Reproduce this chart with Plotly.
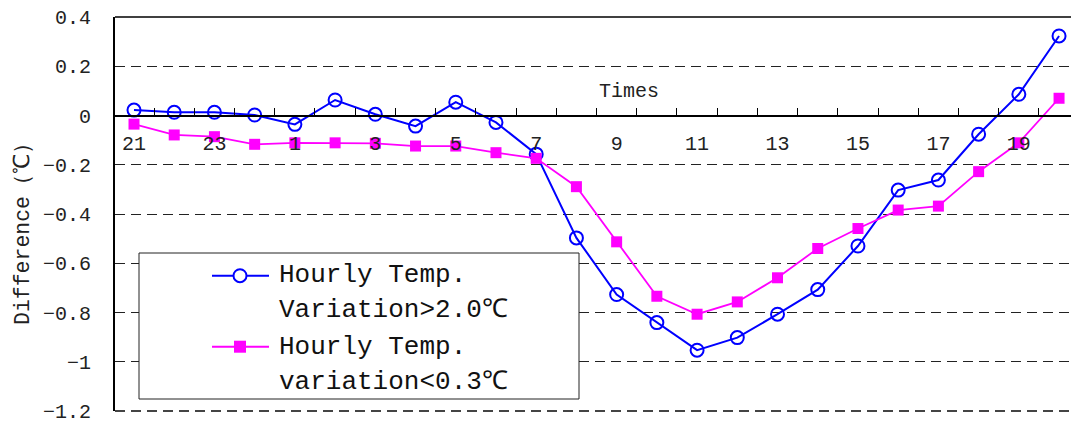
import plotly.graph_objects as go

# ---- data ----
hours = [21, 22, 23, 0, 1, 2, 3, 4, 5, 6, 7, 8, 9, 10, 11, 12, 13, 14, 15, 16, 17, 18, 19, 20]
diff_large = [0.022, 0.013, 0.013, 0.002, -0.036, 0.063, 0.005, -0.043, 0.054, -0.028, -0.157, -0.497,
              -0.727, -0.841, -0.953, -0.902, -0.807, -0.707, -0.530, -0.303, -0.262, -0.076, 0.086, 0.323]
diff_small = [-0.035, -0.079, -0.086, -0.117, -0.111, -0.111, -0.113, -0.124, -0.124, -0.151, -0.174, -0.289,
              -0.513, -0.734, -0.807, -0.757, -0.659, -0.540, -0.459, -0.384, -0.368, -0.228, -0.111, 0.070]
name_large = ["Hourly Temp.", "Variation>2.0℃"]
name_small = ["Hourly Temp.", "variation<0.3℃"]
y_ticks = [0.4, 0.2, 0, -0.2, -0.4, -0.6, -0.8, -1, -1.2]
y_ticklabels = ["0.4", "0.2", "0", "−0.2", "−0.4", "−0.6", "−0.8", "−1", "−1.2"]

BLUE = "#0000FF"
MAG = "#FF00FF"
FONT = "Liberation Mono"

W, H = 1071, 425
ML, MT, MB = 115, 17, 14
PW = W - ML
PH = H - MT - MB


def px(x):
    return (x - ML) / PW


def py(y):
    return (H - MB - y) / PH


xpos = list(range(len(hours)))

fig = go.Figure()
fig.add_trace(go.Scatter(
    x=xpos, y=diff_large, mode="lines+markers",
    line=dict(color=BLUE, width=2),
    marker=dict(symbol="circle-open", size=13, color=BLUE, line=dict(width=2, color=BLUE)),
    showlegend=False))
fig.add_trace(go.Scatter(
    x=xpos, y=diff_small, mode="lines+markers",
    line=dict(color=MAG, width=1.8),
    marker=dict(symbol="square", size=11, color=MAG),
    showlegend=False))

tickvals = xpos[::2]
ticktext = [str(h) for h in hours[::2]]
boundaries = [i + 0.5 for i in range(len(hours) - 1)]

fig.update_layout(
    width=W, height=H,
    margin=dict(l=ML, r=0, t=MT, b=MB),
    paper_bgcolor="white", plot_bgcolor="white",
    xaxis=dict(
        range=[-0.4725, 23.297], anchor="free", position=0.75,
        tickmode="array", tickvals=tickvals, ticktext=ticktext,
        ticks="inside", ticklen=0, ticklabelstandoff=10,
        showline=True, linecolor="black", linewidth=1.5,
        showgrid=False, zeroline=False,
        tickfont=dict(family=FONT, size=20, color="#222"),
        minor=dict(tickmode="array", tickvals=boundaries, ticks="inside",
                   ticklen=7, tickcolor="black", tickwidth=1, showgrid=False),
    ),
    yaxis=dict(
        range=[-1.2, 0.4], tickmode="array", tickvals=y_ticks, ticktext=y_ticklabels,
        showline=True, linecolor="black", linewidth=2,
        showgrid=True, gridcolor="#222", griddash="10px,6px", gridwidth=1,
        zeroline=False, ticks="", ticklabelstandoff=18,
        tickfont=dict(family=FONT, size=20, color="#222"),
    ),
)

shapes = []
# top frame line
shapes.append(dict(type="line", xref="paper", yref="paper", x0=0, x1=1, y0=1, y1=1,
                   line=dict(color="black", width=1.5)))
# bottom dashed frame line
shapes.append(dict(type="line", xref="paper", yref="paper", x0=0, x1=1, y0=0, y1=0,
                   line=dict(color="#444", width=2, dash="10px,6px")))
# legend box
shapes.append(dict(type="rect", xref="paper", yref="paper", x0=px(139), x1=px(579), y0=py(253), y1=py(399),
                   line=dict(color="#222", width=1), fillcolor="white", layer="above"))
# legend samples
for yy, col in [(275.7, BLUE), (346.7, MAG)]:
    shapes.append(dict(type="line", xref="paper", yref="paper", x0=px(212), x1=px(269), y0=py(yy), y1=py(yy),
                       line=dict(color=col, width=2), layer="above"))
r = 6.5
shapes.append(dict(type="circle", xref="paper", yref="paper", x0=px(240 - r), x1=px(240 + r),
                   y0=py(275.7 + r), y1=py(275.7 - r), line=dict(color=BLUE, width=2),
                   fillcolor="white", layer="above"))
s = 6
shapes.append(dict(type="rect", xref="paper", yref="paper", x0=px(240 - s), x1=px(240 + s),
                   y0=py(346.7 + s), y1=py(346.7 - s), line=dict(color=MAG, width=0),
                   fillcolor=MAG, layer="above"))
fig.update_layout(shapes=shapes)

annotations = []
for txt, yy in zip(name_large + name_small, [275, 310, 347, 382]):
    annotations.append(dict(x=px(277), y=py(yy), xref="paper", yref="paper", text=txt,
                            showarrow=False, xanchor="left", yanchor="middle",
                            font=dict(family=FONT, size=26, color="#111")))
annotations.append(dict(x=px(628.5), y=py(92), xref="paper", yref="paper", text="Times",
                        showarrow=False, xanchor="center", yanchor="middle",
                        font=dict(family=FONT, size=20, color="#222")))
annotations.append(dict(x=px(23), y=py(229), xref="paper", yref="paper", text="Difference（℃）",
                        showarrow=False, xanchor="center", yanchor="middle", textangle=-90,
                        font=dict(family=FONT, size=21.5, color="#222")))
fig.update_layout(annotations=annotations)

fig.write_html("out.html")
